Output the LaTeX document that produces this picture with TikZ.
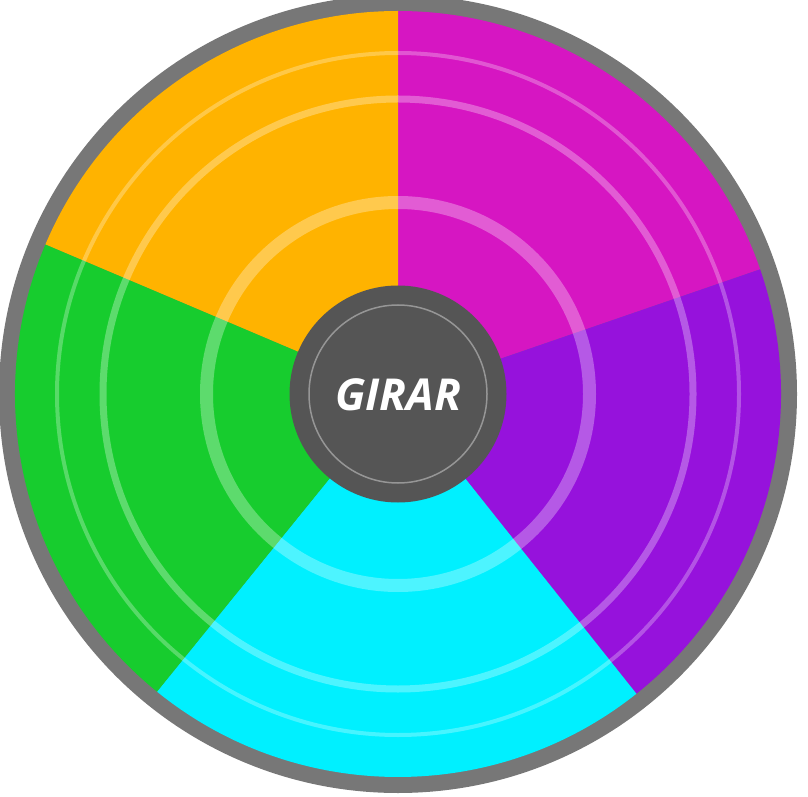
\documentclass[tikz,border=0pt]{standalone}
\usepackage{fontspec}
\newfontfamily\opensans{Open Sans}
\definecolor{cOrange}{RGB}{255,179,0}
\definecolor{cMagenta}{RGB}{214,22,194}
\definecolor{cPurple}{RGB}{150,18,220}
\definecolor{cCyan}{RGB}{0,240,255}
\definecolor{cGreen}{RGB}{23,204,46}
\definecolor{cRim}{RGB}{119,119,119}
\definecolor{cHub}{RGB}{85,85,85}
\definecolor{cHubLine}{RGB}{150,150,150}
\tikzset{
  ringline/.style={draw=white,draw opacity=#1},
}
\begin{document}
\begin{tikzpicture}[x=1pt,y=1pt]
\useasboundingbox (0pt,0pt) rectangle (808pt,796pt);
\begin{scope}[shift={(398pt,402pt)}]
  % rim
  \fill[cRim] (0pt,0pt) circle[radius=399pt];
  % sectors
  \fill[cMagenta] (0pt,0pt) -- (90:383pt) arc[start angle=90,end angle=19,radius=383pt] -- cycle;
  \fill[cPurple] (0pt,0pt) -- (19:383pt) arc[start angle=19,end angle=-51.5,radius=383pt] -- cycle;
  \fill[cCyan] (0pt,0pt) -- (-51.5:383pt) arc[start angle=-51.5,end angle=-129,radius=383pt] -- cycle;
  \fill[cGreen] (0pt,0pt) -- (-129:383pt) arc[start angle=-129,end angle=-203,radius=383pt] -- cycle;
  \fill[cOrange] (0pt,0pt) -- (157:383pt) arc[start angle=157,end angle=90,radius=383pt] -- cycle;
  % translucent rings
  \draw[ringline=0.28,line width=4pt] (0pt,0pt) circle[radius=341pt];
  \draw[ringline=0.3,line width=7pt] (0pt,0pt) circle[radius=295pt];
  \draw[ringline=0.3,line width=13pt] (0pt,0pt) circle[radius=191.5pt];
  % hub
  \fill[cHub] (0pt,0pt) circle[radius=108.5pt];
  \draw[cHubLine,line width=1.5pt] (0pt,0pt) circle[radius=89pt];
  \node[text=white,inner sep=0pt,font=\opensans\bfseries\itshape\fontsize{44}{52}\selectfont] (girar) at (0pt,-1pt) {GIRAR};
\end{scope}
\end{tikzpicture}
\end{document}
